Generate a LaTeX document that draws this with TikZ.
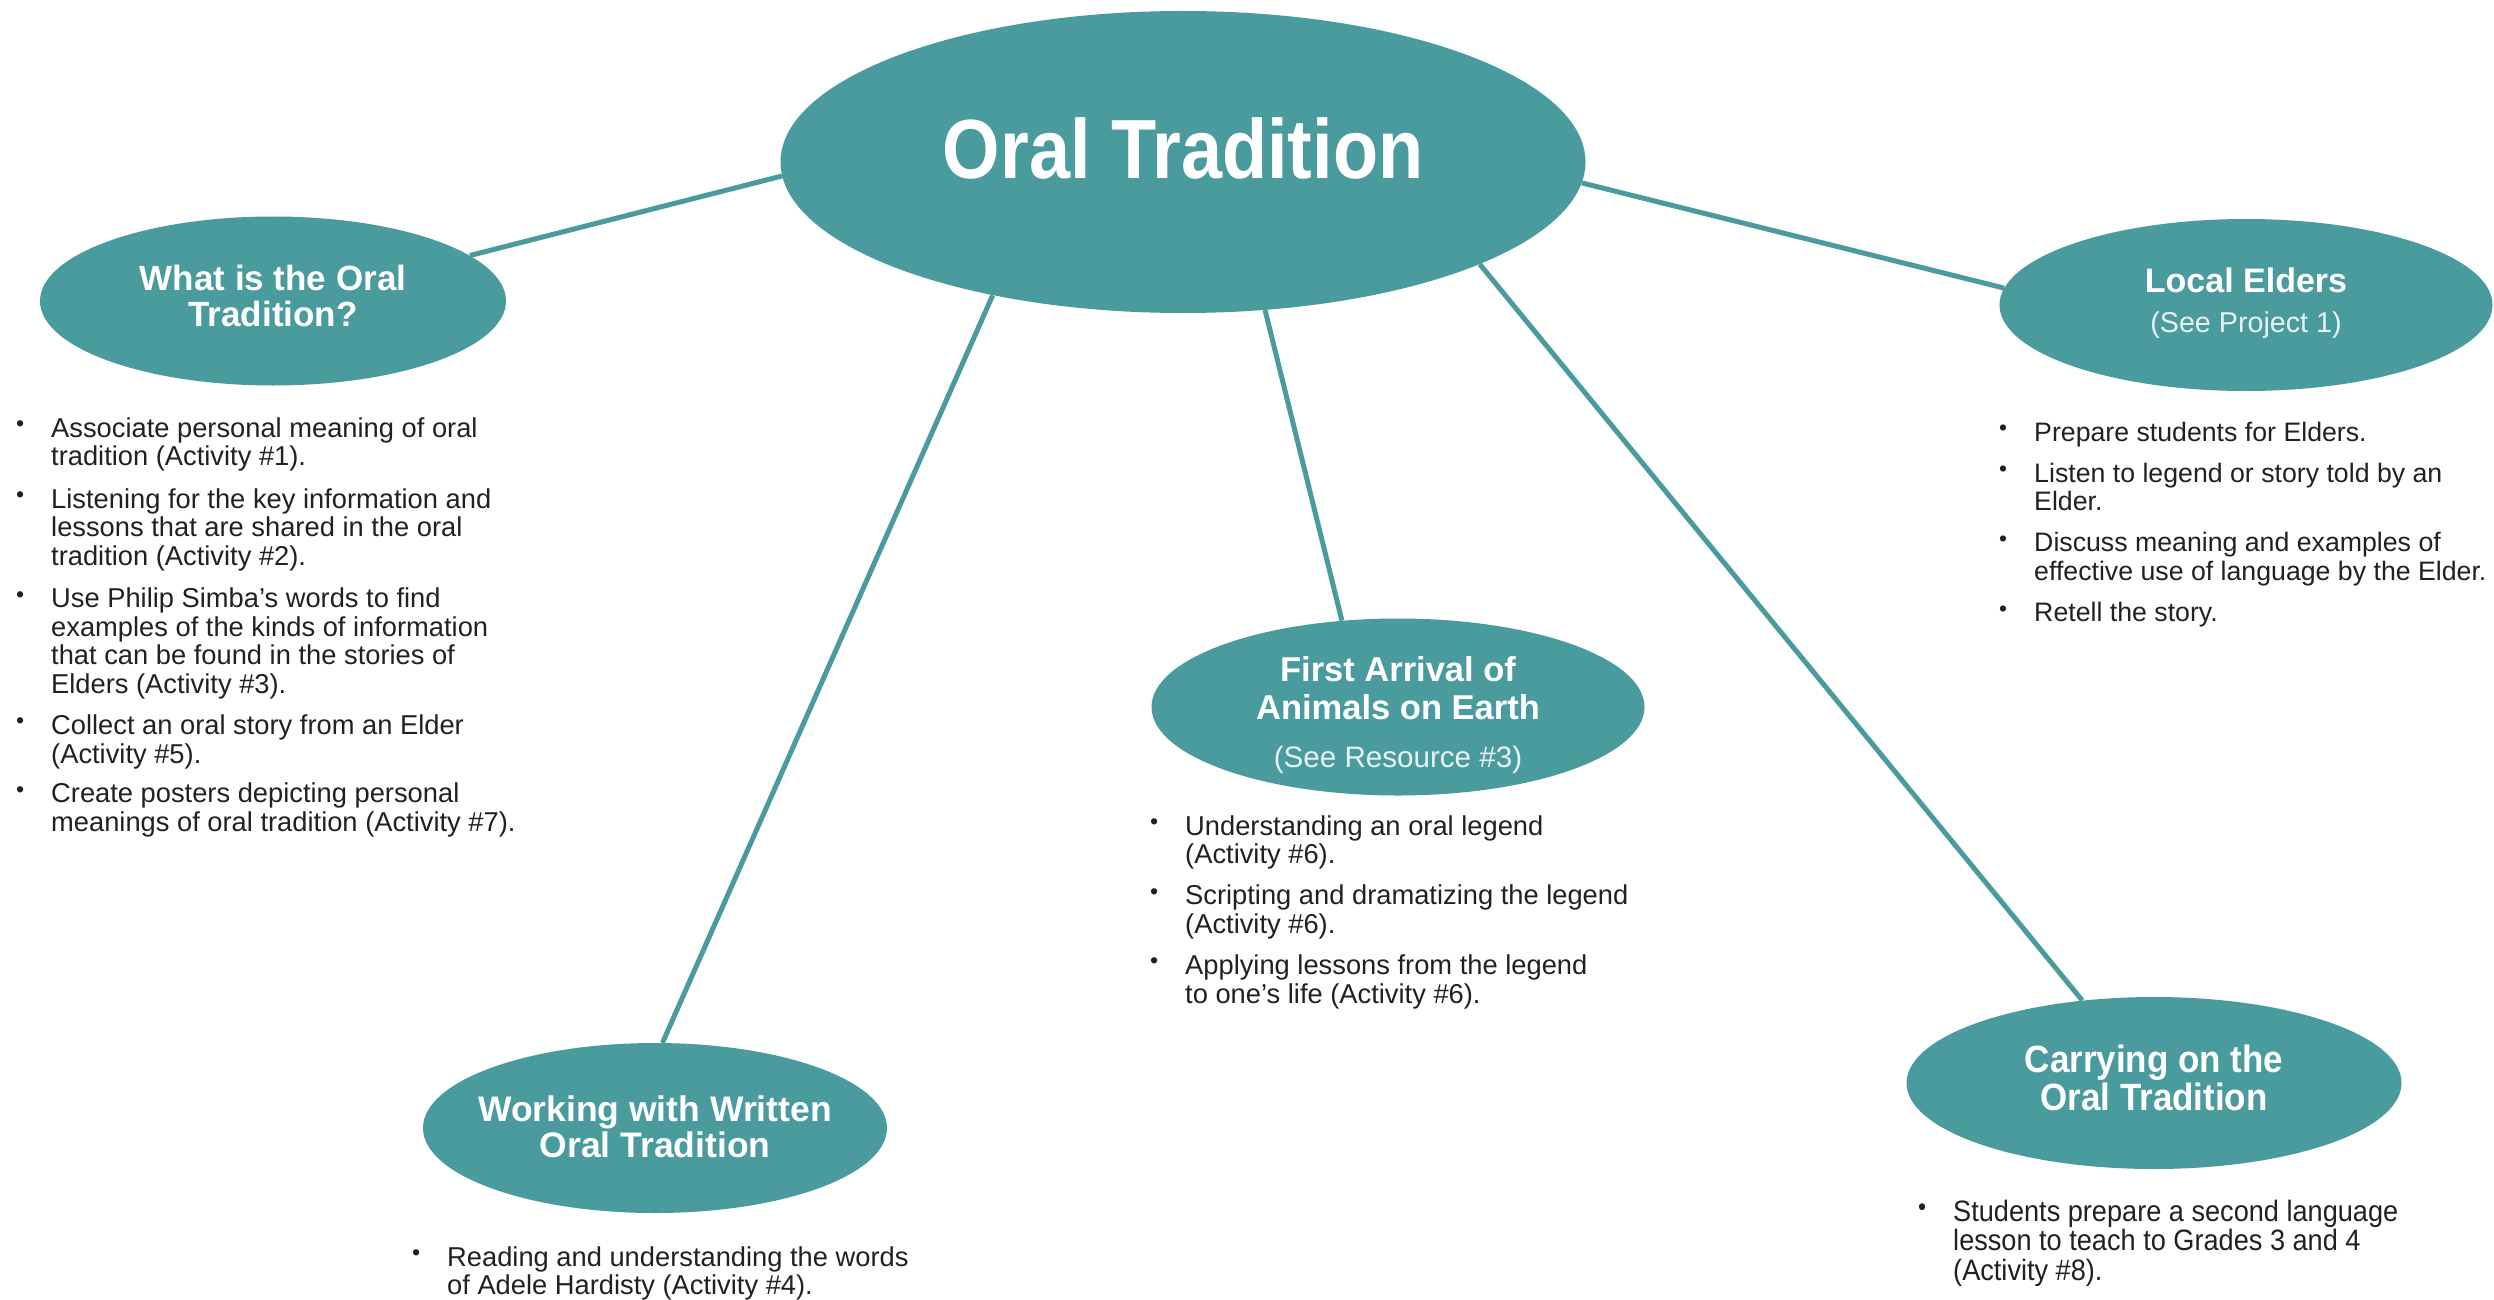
\documentclass[tikz,border=0pt]{standalone}
\usepackage{fontspec}
\usepackage{graphicx}
\setmainfont{Liberation Sans}
\newfontfamily\condfont[FakeStretch=0.88]{Liberation Sans}
\newfontfamily\semicond[FakeStretch=0.92]{Liberation Sans}
\usetikzlibrary{shapes.geometric}
\definecolor{tealfill}{RGB}{74,155,158}
\definecolor{bodytext}{RGB}{35,32,33}
\definecolor{subwhite}{RGB}{232,242,242}
\newcommand\bl{\makebox[35pt][l]{\raisebox{0.2em}{\scalebox{0.85}{\textbullet}}}}
\newcommand\ind{\hspace*{35pt}}
\begin{document}
\begin{tikzpicture}[x=1pt,y=-1pt,
  bubble/.style={ellipse, fill=tealfill, draw=none, inner sep=0pt},
  title/.style={inner sep=0pt, text=white, align=center},
  spoke/.style={draw=tealfill, line width=5pt},
  blist/.style={anchor=base west, inner sep=0pt, text=bodytext, font=\fontsize{27.3}{28.6}\selectfont}]
\fill[white] (0,0) rectangle (2494,1300);
\useasboundingbox (0,0) rectangle (2494,1300);

% bubbles
\node[bubble, minimum width=805pt, minimum height=302pt] (oral) at (1183,162) {};
\node[bubble, minimum width=466pt, minimum height=169pt] (what) at (273,301) {};
\node[bubble, minimum width=493pt, minimum height=172pt] (local) at (2246,305) {};
\node[bubble, minimum width=493pt, minimum height=177pt] (first) at (1398,707) {};
\node[bubble, minimum width=464pt, minimum height=170pt] (work) at (655,1128) {};
\node[bubble, minimum width=495pt, minimum height=172pt] (carry) at (2154,1083) {};

% titles
\node[title, yshift=3pt, font=\condfont\bfseries\fontsize{84}{100}\selectfont] (oralt) at (oral.center)
  {\begin{tabular}{@{}c@{}}Oral Tradition\end{tabular}};
\node[title, font=\bfseries\fontsize{35}{36.6}\selectfont] (whatt) at (what.center)
  {\begin{tabular}{@{}c@{}}What is the Oral\\Tradition?\end{tabular}};
\node[title, font=\fontsize{34}{37}\selectfont] (localt) at (local.center)
  {\begin{tabular}{@{}c@{}}{\bfseries Local Elders}\\[3pt]
   {\color{subwhite}\fontsize{28.7}{37}\selectfont (See Project 1)}\end{tabular}};
\node[title, yshift=-10pt, font=\fontsize{34.5}{37}\selectfont] (firstt) at (first.center)
  {\begin{tabular}{@{}c@{}}{\bfseries First Arrival of}\\[1pt]
   {\bfseries Animals on Earth}\\[10.7pt]
   {\color{subwhite}\fontsize{29.6}{37}\selectfont (See Resource \#3)}\end{tabular}};
\node[title, yshift=-4pt, font=\bfseries\fontsize{35.5}{36.6}\selectfont] (workt) at (work.center)
  {\begin{tabular}{@{}c@{}}Working with Written\\Oral Tradition\end{tabular}};
\node[title, font=\semicond\bfseries\fontsize{38}{36.6}\selectfont] (carryt) at (carry.center)
  {\begin{tabular}{@{}c@{}}Carrying on the\\Oral Tradition\end{tabular}};

% connectors
\draw[spoke] (oral.182) -- (what.13);
\draw[spoke] (oral.-3) -- (local.176.6);
\draw[spoke] (oral.215.5) -- (work.85.7);
\draw[spoke] (oral.-61) -- (first.123.4);
\draw[spoke] (oral.-19.4) -- (carry.131.5);

% bullet lists
\node[blist] (whatlist) at (16,437) {\begin{tabular}[t]{@{}l@{}}
\bl Associate personal meaning of oral\\
\ind tradition (Activity \#1).\\[14pt]
\bl Listening for the key information and\\
\ind lessons that are shared in the oral\\
\ind tradition (Activity \#2).\\[13.5pt]
\bl Use Philip Simba’s words to find\\
\ind examples of the kinds of information\\
\ind that can be found in the stories of\\
\ind Elders (Activity \#3).\\[12.5pt]
\bl Collect an oral story from an Elder\\
\ind (Activity \#5).\\[11pt]
\bl Create posters depicting personal\\
\ind meanings of oral tradition (Activity \#7).
\end{tabular}};

\node[blist, font=\fontsize{26.7}{28.6}\selectfont] (locallist) at (1999,441) {\begin{tabular}[t]{@{}l@{}}
\bl Prepare students for Elders.\\[12.5pt]
\bl Listen to legend or story told by an\\
\ind Elder.\\[12.5pt]
\bl Discuss meaning and examples of\\
\ind effective use of language by the Elder.\\[12.5pt]
\bl Retell the story.
\end{tabular}};

\node[blist] (firstlist) at (1150,835) {\begin{tabular}[t]{@{}l@{}}
\bl Understanding an oral legend\\
\ind (Activity \#6).\\[12.5pt]
\bl Scripting and dramatizing the legend\\
\ind (Activity \#6).\\[12.5pt]
\bl Applying lessons from the legend\\
\ind to one’s life (Activity \#6).
\end{tabular}};

\node[blist] (worklist) at (412,1266) {\begin{tabular}[t]{@{}l@{}}
\bl Reading and understanding the words\\
\ind of Adele Hardisty (Activity \#4).
\end{tabular}};

\node[blist, font=\semicond\fontsize{29.5}{28.6}\selectfont] (carrylist) at (1918,1221) {\begin{tabular}[t]{@{}l@{}}
\bl Students prepare a second language\\
\ind lesson to teach to Grades 3 and 4\\
\ind (Activity \#8).
\end{tabular}};
\end{tikzpicture}
\end{document}
